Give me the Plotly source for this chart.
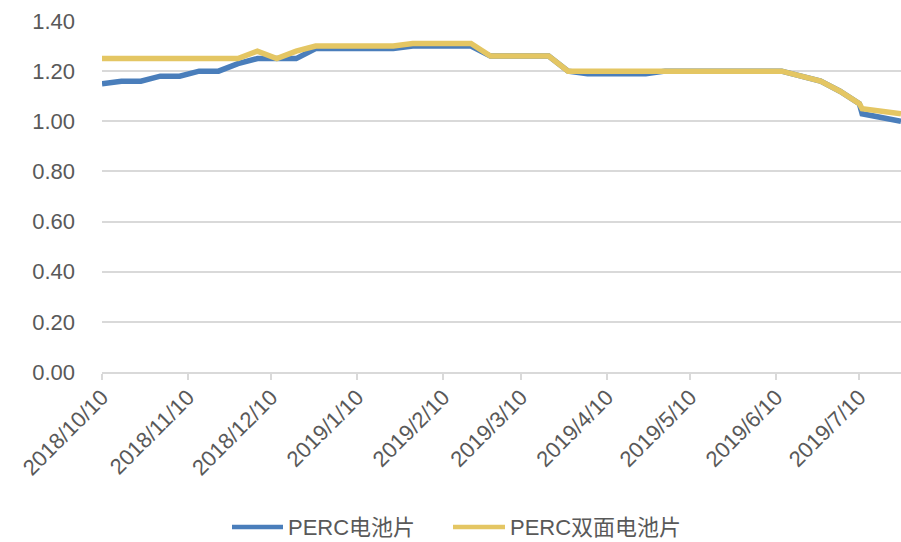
import plotly.graph_objects as go

# Weekly cell price quotes (yuan/W)
dates = [
    "2018-10-10", "2018-10-17", "2018-10-24", "2018-10-31", "2018-11-07",
    "2018-11-14", "2018-11-21", "2018-11-28", "2018-12-05", "2018-12-12",
    "2018-12-19", "2018-12-26", "2019-01-02", "2019-01-09", "2019-01-16",
    "2019-01-23", "2019-01-30", "2019-02-06", "2019-02-13", "2019-02-20",
    "2019-02-27", "2019-03-06", "2019-03-13", "2019-03-20", "2019-03-27",
    "2019-04-03", "2019-04-10", "2019-04-17", "2019-04-24", "2019-05-01",
    "2019-05-08", "2019-05-15", "2019-05-22", "2019-05-29", "2019-06-05",
    "2019-06-12", "2019-06-19", "2019-06-26", "2019-07-03", "2019-07-10",
    "2019-07-11", "2019-07-25",
]

perc = [
    1.15, 1.16, 1.16, 1.18, 1.18, 1.20, 1.20, 1.23, 1.25, 1.25,
    1.25, 1.29, 1.29, 1.29, 1.29, 1.29, 1.30, 1.30, 1.30, 1.30,
    1.26, 1.26, 1.26, 1.26, 1.20, 1.19, 1.19, 1.19, 1.19, 1.20,
    1.20, 1.20, 1.20, 1.20, 1.20, 1.20, 1.18, 1.16, 1.12, 1.07,
    1.03, 1.00,
]

perc_bifacial = [
    1.25, 1.25, 1.25, 1.25, 1.25, 1.25, 1.25, 1.25, 1.28, 1.25,
    1.28, 1.30, 1.30, 1.30, 1.30, 1.30, 1.31, 1.31, 1.31, 1.31,
    1.26, 1.26, 1.26, 1.26, 1.20, 1.20, 1.20, 1.20, 1.20, 1.20,
    1.20, 1.20, 1.20, 1.20, 1.20, 1.20, 1.18, 1.16, 1.12, 1.07,
    1.05, 1.03,
]

series_names = ["PERC电池片", "PERC双面电池片"]
series_colors = ["#4A7EBB", "#E4C663"]

tick_dates = [
    "2018-10-10", "2018-11-10", "2018-12-10", "2019-01-10", "2019-02-10",
    "2019-03-10", "2019-04-10", "2019-05-10", "2019-06-10", "2019-07-10",
]
tick_labels = [
    "2018/10/10", "2018/11/10", "2018/12/10", "2019/1/10", "2019/2/10",
    "2019/3/10", "2019/4/10", "2019/5/10", "2019/6/10", "2019/7/10",
]
y_ticks = [0.0, 0.2, 0.4, 0.6, 0.8, 1.0, 1.2, 1.4]

FONT = "Liberation Sans, Arial, Noto Sans CJK SC, sans-serif"
TEXT_COLOR = "#595959"
GRID_COLOR = "#D9D9D9"

W, H = 901, 542
M_L, M_R, M_T, M_B = 102, 0, 21, 170

fig = go.Figure()
for name, vals, color in zip(series_names, [perc, perc_bifacial], series_colors):
    fig.add_trace(go.Scatter(
        x=dates, y=vals, name=name, mode="lines",
        line=dict(color=color, width=5.5),
        showlegend=False,
    ))

# Legend drawn as short thick strokes with labels, centred under the plot
plot_w = W - M_L - M_R
plot_h = H - M_T - M_B


def px_x(px):
    return (px - M_L) / plot_w


def px_y(py):
    return (H - M_B - py) / plot_h


legend_y = 527
legend_items = [(232, 283, 286), (453, 505, 508)]
for (x0, x1, tx), name, color in zip(legend_items, series_names, series_colors):
    fig.add_shape(
        type="line", xref="paper", yref="paper",
        x0=px_x(x0), x1=px_x(x1), y0=px_y(legend_y), y1=px_y(legend_y),
        line=dict(color=color, width=4.5),
    )
    fig.add_annotation(
        xref="paper", yref="paper", x=px_x(tx), y=px_y(legend_y),
        text=name, showarrow=False, xanchor="left", yanchor="middle",
        font=dict(family=FONT, size=22, color=TEXT_COLOR),
    )

fig.update_layout(
    width=W, height=H,
    margin=dict(l=M_L, r=M_R, t=M_T, b=M_B),
    paper_bgcolor="white", plot_bgcolor="white",
    font=dict(family=FONT, size=22, color=TEXT_COLOR),
    showlegend=False,
)

fig.update_xaxes(
    type="date",
    range=[dates[0], dates[-1]],
    tickvals=tick_dates, ticktext=tick_labels,
    tickangle=-45,
    tickfont=dict(family=FONT, size=22, color=TEXT_COLOR),
    showgrid=False,
    showline=True, linecolor=GRID_COLOR, linewidth=1.5,
    ticks="outside", ticklen=6, tickcolor=GRID_COLOR, tickwidth=1.5,
    ticklabelstandoff=-4,
    zeroline=False,
)

fig.update_yaxes(
    range=[0, 1.4],
    tickvals=y_ticks, tickformat=".2f",
    tickfont=dict(family=FONT, size=22, color=TEXT_COLOR),
    showgrid=True, gridcolor=GRID_COLOR, gridwidth=1.5,
    zeroline=False, showline=False,
    ticks="", ticklabelstandoff=26,
)

fig.write_html("out.html")
